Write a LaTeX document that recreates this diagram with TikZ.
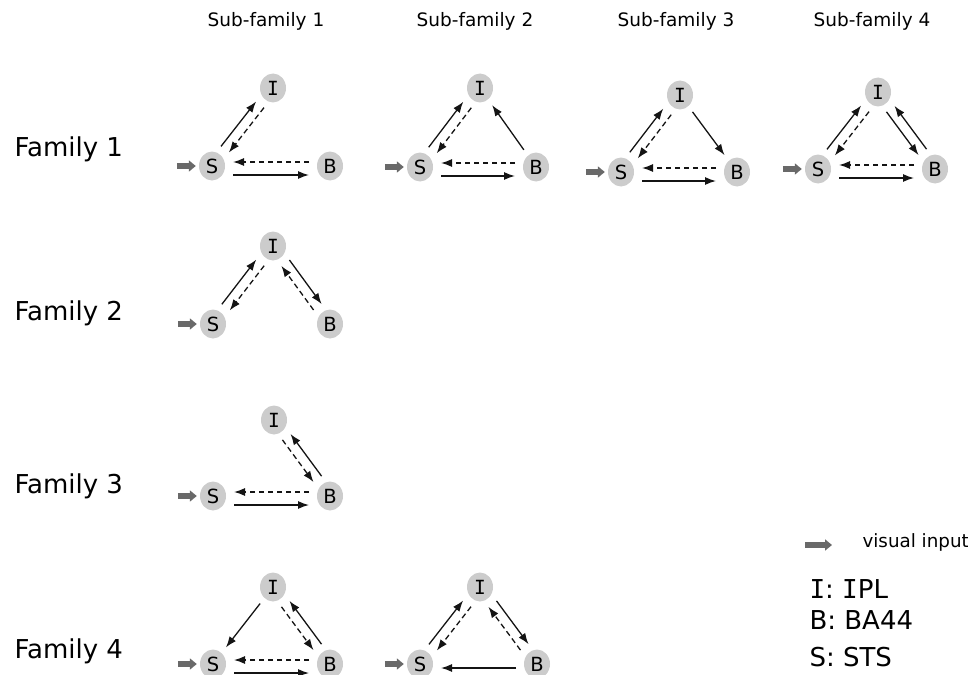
\documentclass[tikz,border=0pt]{standalone}
\usepackage{fontspec}
\setmainfont{DejaVu Sans}
\newfontfamily\slabfont{DejaVu Sans Mono}
\definecolor{regfill}{RGB}{204,204,204}
\definecolor{inputgray}{RGB}{105,105,105}
\definecolor{linkblack}{RGB}{20,20,20}
\usetikzlibrary{arrows.meta,positioning,shapes.geometric,calc}
% connector shifted sideways by #2
\newcommand{\conn}[4]{\draw[#1] ($(#3)!#2!90:(#4)$) -- ($(#4)!#2!-90:(#3)$);}
% capital I with serifs
\newcommand{\regI}{{\slabfont I}}

\begin{document}
\begin{tikzpicture}[x=1pt,y=-1pt,
  reg/.style={ellipse,fill=regfill,minimum width=26pt,minimum height=29pt,
    inner sep=0pt,font=\fontsize{19.5}{19.5}\selectfont},
  sol/.style={-{Latex[length=11pt,width=8pt]},line width=1.3pt,draw=linkblack,
    shorten <=21pt,shorten >=21pt},
  dsh/.style={sol,dash pattern=on 5.5pt off 3.5pt},
  vin/.style={-{Triangle[length=7pt,width=11pt]},line width=5.5pt,draw=inputgray,
    shorten >=3pt},
  head/.style={anchor=base,font=\fontsize{18.5}{20}\selectfont},
  fam/.style={anchor=base west,font=\fontsize{26}{28}\selectfont},
  leg/.style={anchor=base west,font=\fontsize{26}{28}\selectfont}]
  \useasboundingbox (0,0) rectangle (968,674);
  % Column heads
  \node[head] (h1) at (266,27) {Sub-family 1};
  \node[head] (h2) at (475,27) {Sub-family 2};
  \node[head] (h3) at (676,27) {Sub-family 3};
  \node[head] (h4) at (872,27) {Sub-family 4};
  % Row labels
  \node[fam] (f1) at (11,156) {Family 1};
  \node[fam] (f2) at (11,320) {Family 2};
  \node[fam] (f3) at (11,493) {Family 3};
  \node[fam] (f4) at (11,658) {Family 4};
  % Family 1
  \node[reg] (i11) at (273,88) {\regI};
  \node[reg] (s11) at (212,166) {S};
  \node[reg] (b11) at (330,166) {B};
  \node[reg] (i12) at (480,88) {\regI};
  \node[reg] (s12) at (420,167) {S};
  \node[reg] (b12) at (536,167) {B};
  \node[reg] (i13) at (680,95) {\regI};
  \node[reg] (s13) at (621,172) {S};
  \node[reg] (b13) at (737,172) {B};
  \node[reg] (i14) at (878,92) {\regI};
  \node[reg] (s14) at (818,169) {S};
  \node[reg] (b14) at (935,169) {B};
  % Family 2
  \node[reg] (i21) at (273,246) {\regI};
  \node[reg] (s21) at (213,324) {S};
  \node[reg] (b21) at (330,324) {B};
  % Family 3
  \node[reg] (i31) at (274,420) {\regI};
  \node[reg] (s31) at (213,496) {S};
  \node[reg] (b31) at (330,496) {B};
  % Family 4
  \node[reg] (i41) at (273,587) {\regI};
  \node[reg] (s41) at (213,664) {S};
  \node[reg] (b41) at (330,664) {B};
  \node[reg] (i42) at (480,587) {\regI};
  \node[reg] (s42) at (420,664) {S};
  \node[reg] (b42) at (537,664) {B};
  % Visual input
  \foreach \n in {11,12,13,14,21,31,41,42} {
    \coordinate[left=22pt of s\n] (v\n);
    \draw[vin] (v\n) -- (s\n);
  }
  % Links, family 1
  \foreach \n in {11,12,13,14} {
    \conn{sol}{5pt}{s\n}{i\n}
    \conn{dsh}{5pt}{i\n}{s\n}
    \conn{sol}{-9pt}{s\n}{b\n}
    \conn{dsh}{-4pt}{b\n}{s\n}
  }
  \conn{sol}{0pt}{b12}{i12}
  \conn{sol}{0pt}{i13}{b13}
  \conn{sol}{-5pt}{i14}{b14}
  \conn{sol}{-5pt}{b14}{i14}
  % Links, family 2
  \conn{sol}{5pt}{s21}{i21}
  \conn{dsh}{5pt}{i21}{s21}
  \conn{sol}{5pt}{i21}{b21}
  \conn{dsh}{5pt}{b21}{i21}
  % Links, family 3
  \conn{dsh}{-5pt}{i31}{b31}
  \conn{sol}{-5pt}{b31}{i31}
  \conn{sol}{-9pt}{s31}{b31}
  \conn{dsh}{-4pt}{b31}{s31}
  % Links, family 4
  \conn{sol}{0pt}{i41}{s41}
  \conn{dsh}{-5pt}{i41}{b41}
  \conn{sol}{-5pt}{b41}{i41}
  \conn{sol}{-9pt}{s41}{b41}
  \conn{dsh}{-4pt}{b41}{s41}
  \conn{sol}{5pt}{s42}{i42}
  \conn{dsh}{5pt}{i42}{s42}
  \conn{sol}{5pt}{i42}{b42}
  \conn{dsh}{5pt}{b42}{i42}
  \conn{sol}{4pt}{b42}{s42}
  % Legend
  \coordinate (lv1) at (805,545);
  \coordinate (lv2) at (835,545);
  \draw[vin] (lv1) -- (lv2);
  \node[anchor=base west,font=\fontsize{18.3}{20}\selectfont] (lvt) at (859,547) {visual input};
  \node[leg] (li) at (806,598) {\regI: \regI PL};
  \node[leg] (lb) at (806,629) {B: BA44};
  \node[leg] (ls) at (806,666) {S: STS};
\end{tikzpicture}
\end{document}
